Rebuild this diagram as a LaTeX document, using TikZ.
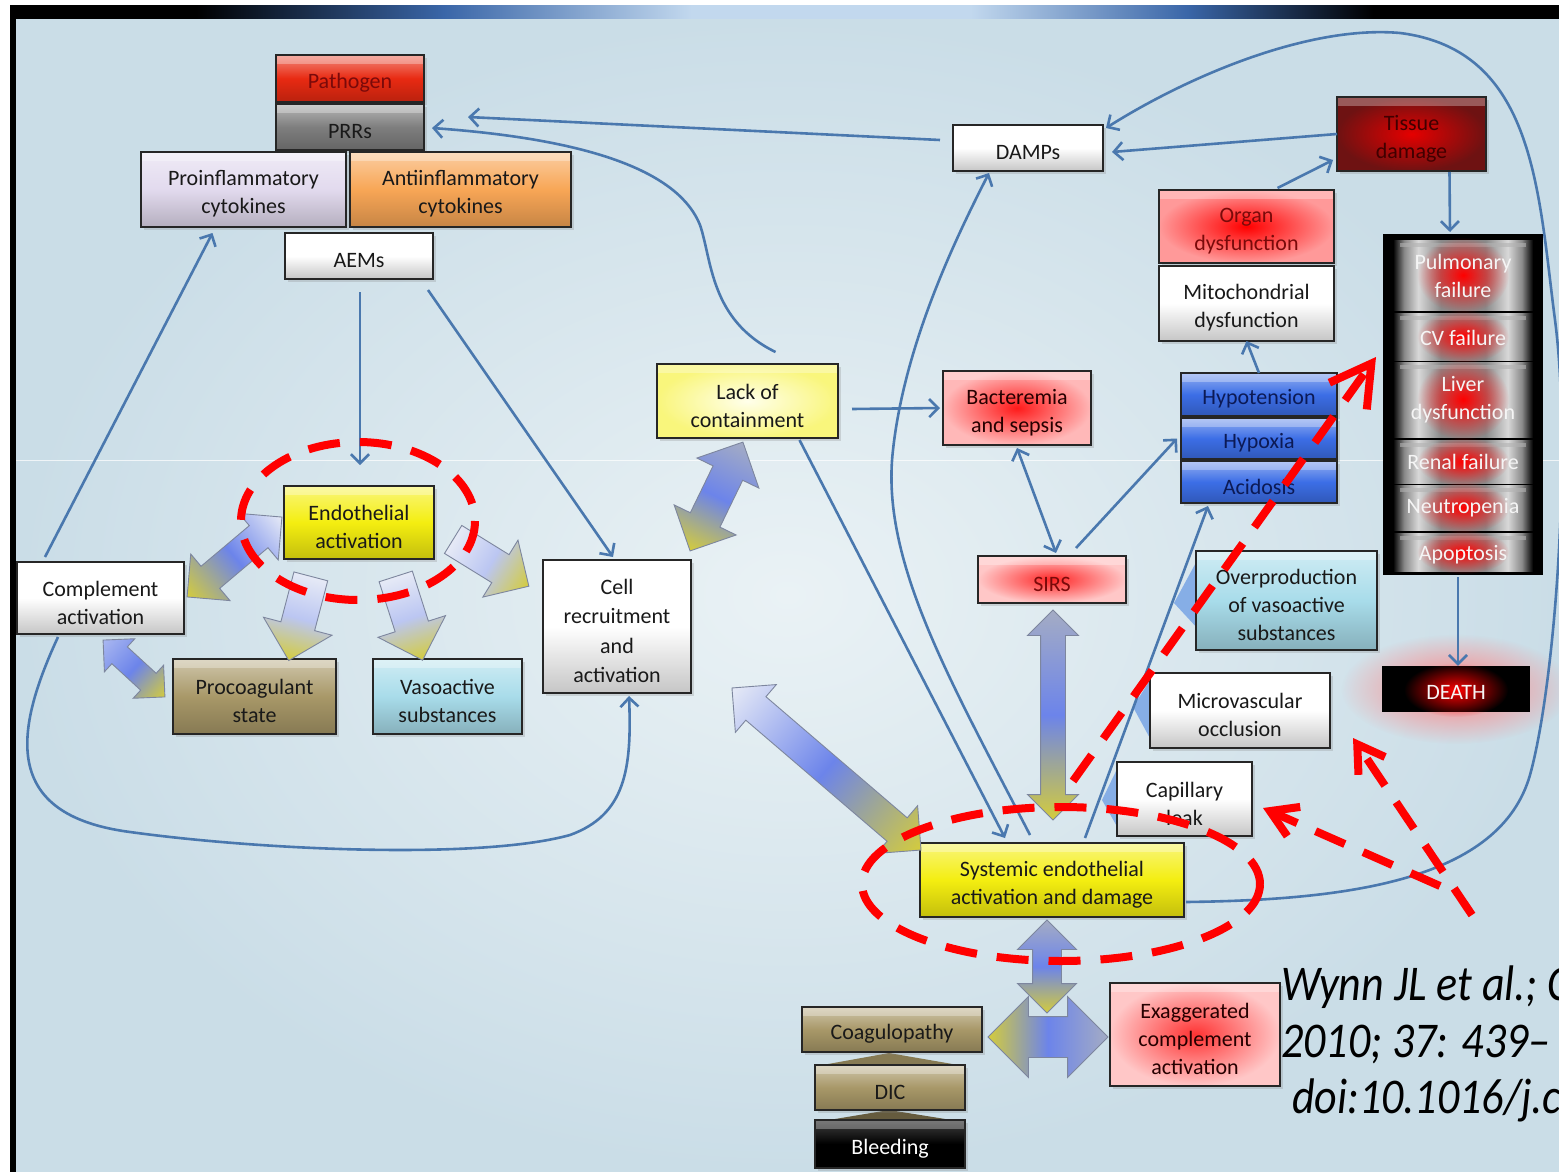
\documentclass[tikz,border=0pt]{standalone}
\usepackage{fontspec}
\setmainfont{Carlito}
\newfontfamily\citefont[FakeStretch=0.88]{Carlito}
\usetikzlibrary{shapes.arrows,arrows.meta,shadows,fadings,calc}

\definecolor{bgin}{HTML}{EAF2F5}
\definecolor{bgout}{HTML}{CADDE7}
\definecolor{connc}{HTML}{4A78AE}
\definecolor{barblue}{HTML}{C2D8EE}
\definecolor{barmid}{HTML}{3A66A8}
\definecolor{pathred}{HTML}{E82A12}
\definecolor{prrgray}{HTML}{7E7E7E}
\definecolor{lav}{HTML}{E2DAEE}
\definecolor{orng}{HTML}{F8A656}
\definecolor{khaki}{HTML}{A89868}
\definecolor{vblue}{HTML}{A8DCEA}
\definecolor{yel}{HTML}{F4EE10}
\definecolor{hblue}{HTML}{3C6EE6}
\definecolor{darkred}{HTML}{6E1212}
\definecolor{txtred}{HTML}{7A0A0A}
\definecolor{txtnavy}{HTML}{0C1A55}
\definecolor{ablue}{HTML}{6C84EA}
\definecolor{awhite}{HTML}{E6EAF6}
\definecolor{ayel}{HTML}{D4CC3C}
\definecolor{agray}{HTML}{A4ACC4}
\definecolor{aline}{HTML}{7D869E}
\definecolor{wedgec}{HTML}{86AEE6}
\definecolor{silver}{HTML}{D8D8D8}
\definecolor{silvdk}{HTML}{8A8A8A}

\pgfdeclarehorizontalshading{topbar}{100bp}{color(0bp)=(black); color(31bp)=(black); color(39bp)=(barmid); color(47bp)=(barblue); color(56bp)=(barblue); color(63bp)=(barmid); color(69bp)=(black); color(100bp)=(black)}
\pgfdeclarehorizontalshading{cellsh}{100bp}{color(0bp)=(black); color(25bp)=(black); color(29bp)=(silvdk); color(34bp)=(silver); color(42bp)=(silvdk); color(58bp)=(silvdk); color(66bp)=(silver); color(71bp)=(silvdk); color(75bp)=(black); color(100bp)=(black)}
\tikzfading[name=fuzzy, inner color=transparent!0, outer color=transparent!100]

\newcommand\blockarr[8]{%
  \begin{scope}[transform canvas={shift={(#2,#3)},rotate=#4}]
    \node[#5, left color=#6, right color=#8, middle color=#7] (#1) at (0,0) {};
  \end{scope}}
% box with its text set slightly low, as in the reference
\newcommand\bx[5]{%
  \node[#2] (#1) at (#3) {};
  \node[btxt, #4] (#1-t) at ($(#1.center)+(0,4.5)$) {#5};}

\begin{document}
\begin{tikzpicture}[x=1pt,y=-1pt,
  >={Straight Barb[length=9pt,width=18pt]},
  box/.style={draw=black!85, line width=1.8pt, inner sep=0pt, outer sep=0pt,
     drop shadow={shadow xshift=3pt, shadow yshift=-3pt, opacity=0.25},
     path picture={\fill[white, opacity=0.3] (path picture bounding box.north west) rectangle ([yshift=-9pt]path picture bounding box.north east);}},
  btxt/.style={align=center, font=\fontsize{22}{28}\selectfont, text=black!90, inner sep=0pt},
  sz/.style 2 args={minimum width=#1pt, minimum height=#2pt},
  vgrad/.style={top color=#1!55!white, bottom color=#1!80!black, middle color=#1},
  wbox/.style={box, top color=white, bottom color=gray!45, middle color=white},
  glow/.style 2 args={box, inner color=#1, outer color=#2},
  conn/.style={draw=connc, line width=2.6pt},
  redd/.style={draw=red, line width=8pt, dash pattern=on 32pt off 20pt},
  darr/.style n args={3}{double arrow, minimum height=#1pt, inner xsep=0pt, inner ysep=#2pt, double arrow head extend=#3pt, draw=aline, line width=0.9pt},
  sarr/.style n args={3}{single arrow, minimum height=#1pt, inner xsep=0pt, inner ysep=#2pt, single arrow head extend=#3pt, draw=aline, line width=0.9pt},
  ftxt/.style={align=center, font=\fontsize{22}{28}\selectfont, text=white!92!gray, inner sep=0pt}
]
\useasboundingbox (0,0) rectangle (1559,1172);
\clip (0,0) rectangle (1559,1172);
% background
\fill[white] (0,0) rectangle (1559,1172);
\shade[inner color=bgin, outer color=bgout] (16,18) rectangle (1559,1172);
\shade[shading=topbar] (10,6) rectangle (1559,19);
\fill[black] (10,6) rectangle (16,1172);
\draw[white, line width=0.8pt, opacity=0.7] (16,460) -- (1559,460);

% ---------- nodes ----------
\bx{path}{box, vgrad=pathred, sz={148}{47}}{350,78.5}{text=txtred}{Pathogen}
\bx{prrs}{box, vgrad=prrgray, sz={148}{46}}{350,127}{}{PRRs}
\bx{proinf}{box, vgrad=lav, sz={205}{75}}{243.5,189.5}{}{Proinflammatory\\cytokines}
\bx{antiinf}{box, vgrad=orng, sz={221}{75}}{460.5,189.5}{}{Antiinflammatory\\cytokines}
\bx{aems}{wbox, sz={148}{46}}{359,256}{}{AEMs}
\bx{damps}{wbox, sz={150}{46}}{1028,148}{}{DAMPs}
\bx{tissue}{glow={red!90!black}{darkred}, sz={149}{74}}{1411.5,134}{text=black!75!red}{Tissue\\damage}
\bx{organ}{glow={red}{red!40!white}, sz={175}{73}}{1246.5,226.5}{text=txtred}{Organ\\dysfunction}
\bx{mito}{wbox, sz={175}{75}}{1246.5,303.5}{}{Mitochondrial\\dysfunction}

% organ failure column
\node[fill=black, sz={160}{341}, inner sep=0pt, outer sep=0pt] (failcol) at (1463,404.5) {};
\foreach \ya/\yb in {240/310, 313/360, 362/437, 440/483, 485/530, 533/571}{
  \shade[shading=cellsh] (1393,\ya) rectangle (1533,\yb);
  \fill[gray!60, opacity=0.6] (1400,\ya+3) rectangle (1526,\ya+7);
  \fill[red, path fading=fuzzy] (1463,{(\ya+\yb)/2}) ellipse (46 and {(\yb-\ya)/2+3});
}
\node[ftxt] (pulm) at (1463,276) {Pulmonary\\failure};
\node[ftxt] (cvf) at (1463,338) {CV failure};
\node[ftxt] (liver) at (1463,400) {Liver\\dysfunction};
\node[ftxt] (renal) at (1463,462) {Renal failure};
\node[ftxt] (neut) at (1463,508) {Neutropenia};
\node[ftxt] (apop) at (1463,555) {Apoptosis};

% death
\fill[red!50!white, path fading=fuzzy] (1456,689) ellipse (115 and 55);
\node[fill=black, sz={148}{46}, inner sep=0pt] (death) at (1456,689) {};
\fill[red, path fading=fuzzy] (1456,690) ellipse (52 and 27);
\node[ftxt] (deathtxt) at (1456,692) {DEATH};

\bx{lack}{box, inner color=white!92!yellow, outer color=yel!55!white, sz={181}{74}}{747.5,401}{}{Lack of\\containment}
\bx{bact}{glow={red!90}{red!28!white}, sz={148}{74}}{1017,408}{text=black!85!red}{Bacteremia\\and sepsis}

% wedges behind the boxes
\fill[wedgec] (1199,557) -- (1174,603) -- (1199,630) -- cycle;
\fill[wedgec] (1152,677) -- (1133,707) -- (1152,742) -- cycle;
\fill[wedgec] (1119,765) -- (1102,800) -- (1119,830) -- cycle;

\bx{hypo}{box, vgrad=hblue, sz={156}{43}}{1259,394.5}{text=txtnavy}{Hypotension}
\bx{hypox}{box, vgrad=hblue, sz={156}{41}}{1259,438.5}{text=txtnavy}{Hypoxia}
\bx{acid}{box, vgrad=hblue, sz={156}{42}}{1259,482}{text=txtnavy}{Acidosis}
\bx{sirs}{glow={red!85}{red!22!white}, sz={148}{47}}{1052,579.5}{text=txtred}{SIRS}
\bx{overp}{box, vgrad=vblue, sz={181}{99}}{1286.5,600.5}{}{Overproduction\\of vasoactive\\substances}
\bx{micro}{wbox, sz={180}{75}}{1240,710.5}{}{Microvascular\\occlusion}
\bx{capil}{wbox, sz={135}{74}}{1184.5,799}{}{Capillary\\leak}
\bx{syst}{box, vgrad=yel, sz={264}{74}}{1052,880}{}{Systemic endothelial\\activation and damage}
\bx{exag}{glow={red!80}{red!22!white}, sz={170}{103}}{1195,1034.5}{text=black!85!red}{Exaggerated\\complement\\activation}
\fill[khaki!80!black] (817,1066) -- (889,1053) -- (964,1066) -- cycle;
\fill[khaki!60!black] (817,1122) -- (889,1110) -- (964,1122) -- cycle;
\bx{coag}{box, vgrad=khaki, sz={180}{45}}{892,1029.5}{}{Coagulopathy}
\bx{dic}{box, vgrad=khaki, sz={150}{45}}{890,1087.5}{}{DIC}
\bx{bleed}{box, top color=black!75, bottom color=black, middle color=black, sz={150}{48}}{890,1144}{text=white}{Bleeding}

\bx{endo}{box, vgrad=yel, sz={150}{73}}{359,522.5}{}{Endothelial\\activation}
\bx{compl}{wbox, sz={167}{72}}{100.5,598}{}{Complement\\activation}
\bx{procoag}{box, vgrad=khaki, sz={163}{75}}{254.5,696.5}{}{Procoagulant\\state}
\bx{vaso}{box, vgrad=vblue, sz={149}{75}}{447.5,696.5}{}{Vasoactive\\substances}
\bx{cell}{wbox, sz={148}{133}}{617,626.5}{font=\fontsize{22}{29.5}\selectfont}{Cell\\recruitment\\and\\activation}

% ---------- connectors ----------
\coordinate (prrA) at (468,117);
\draw[conn,->] ($(damps.west)+(-13,-8)$) -- (prrA);
\draw[conn,->] ($(lack.north)+(28,-12)$) .. controls (710,320) and (712,260) .. (700,225)
   .. controls (680,175) and (600,140) .. ($(prrs.east)+(8,1)$);
\draw[conn,->] (tissue.west) -- ($(damps.east)+(9,4)$);
\draw[conn,->] ($(syst.east)+(2,22)$) .. controls (1350,900) and (1500,880) .. (1530,775)
   .. controls (1555,685) and (1572,450) .. (1555,320)
   .. controls (1538,190) and (1535,50) .. (1400,33)
   .. controls (1310,25) and (1190,75) .. ($(damps.north east)+(3,3)$);
\draw[conn,->] ($(tissue.south)+(38,1)$) -- ($(failcol.north)+(-13,-2)$);
\draw[conn,->] ($(organ.north)+(31,-2)$) -- ($(tissue.south west)+(-4,-11)$);
\draw[conn,->] (hypo.north) -- (mito.south);
\draw[conn,->] ($(failcol.south)+(-5,2)$) -- ($(death.north)+(2,0)$);
\draw[conn,->] ($(lack.east)+(14,8)$) -- ($(bact.west)+(-3,0)$);
\draw[conn,<->] ($(bact.south)+(0,3)$) -- ($(sirs.north)+(4,-3)$);
\draw[conn,->] ($(sirs.north east)+(-50,-8)$) -- ($(hypox.west)+(-4,0)$);
\draw[conn,->] ($(syst.north)+(33,-5)$) -- ($(acid.south)+(-51,3)$);
\draw[conn,->] ($(lack.south)+(52,2)$) -- ($(syst.north)+(-47,-5)$);
\draw[conn,->] ($(syst.north)+(-22,-8)$) .. controls (950,680) and (880,560) .. (893,450)
   .. controls (905,340) and (960,230) .. ($(damps.south)+(-39,2)$);
\draw[conn,->] ($(aems.south)+(1,13)$) -- ($(endo.north)+(1,-21)$);
\draw[conn,->] ($(aems.south east)+(-5,11)$) -- ($(cell.north)+(-4,-3)$);
\draw[conn,->] ($(compl.north west)+(28,-5)$) -- ($(proinf.south)+(-31,6)$);
\draw[conn,->] ($(compl.south west)+(41,3)$) .. controls (15,730) and (0,815) .. (130,832)
   .. controls (260,850) and (480,860) .. (570,835)
   .. controls (625,815) and (632,770) .. ($(cell.south)+(12,3)$);

% ---------- block arrows ----------
\blockarr{ba1}{234.5}{557}{220.1}{darr={124}{14}{16}}{awhite}{ablue}{ayel}
\blockarr{ba2}{484}{558.5}{-31.7}{sarr={89}{16}{17}}{awhite}{ablue!35!awhite}{ayel}
\blockarr{ba3}{302}{610}{-104.7}{sarr={87}{17}{18}}{awhite}{ablue!35!awhite}{ayel}
\blockarr{ba4}{406.5}{610}{-72.2}{sarr={88}{17}{18}}{awhite}{ablue!35!awhite}{ayel}
\blockarr{ba5}{134}{668.5}{-42.6}{darr={84}{11}{11}}{ablue!50!awhite}{ablue}{ayel}
\blockarr{ba6}{716.5}{496.5}{244.1}{darr={121}{16}{18}}{agray}{ablue}{ayel}
\blockarr{ba7}{826.5}{769}{-40.6}{darr={249}{15}{16}}{awhite}{ablue}{ayel}
\blockarr{ba8}{1053}{715}{-90}{darr={210}{12}{13}}{agray}{ablue}{ayel}
\blockarr{ba9}{1047}{966.5}{-90}{darr={93}{14}{15}}{agray}{ablue}{ayel}
\blockarr{ba10}{1048}{1037}{0}{darr={120}{20}{20}}{ayel}{ablue}{agray}

% ---------- red dashed annotations ----------
\draw[redd] (358,521) ellipse (117 and 79);
\draw[redd] (1061,884) ellipse (199 and 77);
\coordinate (rdA1) at (1073,781);
\coordinate (rdB1) at (1376,357);
\draw[redd, -{Straight Barb[length=40pt,width=46pt]}] (rdA1) -- (rdB1);
\coordinate (rdA2) at (1472,915);
\coordinate (rdB2) at (1353,738);
\draw[redd, -{Straight Barb[length=26pt,width=32pt]}] (rdA2) -- (rdB2);
\coordinate (rdA3) at (1440,886);
\coordinate (rdB3) at (1263,808);
\draw[redd, -{Straight Barb[length=26pt,width=32pt]}] (rdA3) -- (rdB3);

% ---------- citation ----------
\node[anchor=base west, inner sep=0pt, font=\citefont\itshape\fontsize{50}{57}\selectfont] (cite1) at (1281,1000) {Wynn JL et al.; C};
\node[anchor=base west, inner sep=0pt, font=\citefont\itshape\fontsize{50}{57}\selectfont] (cite2) at (1281,1057) {2010; 37: 439–};
\node[anchor=base west, inner sep=0pt, font=\citefont\itshape\fontsize{50}{57}\selectfont] (cite3) at (1292,1113) {doi:10.1016/j.c};
\end{tikzpicture}
\end{document}
